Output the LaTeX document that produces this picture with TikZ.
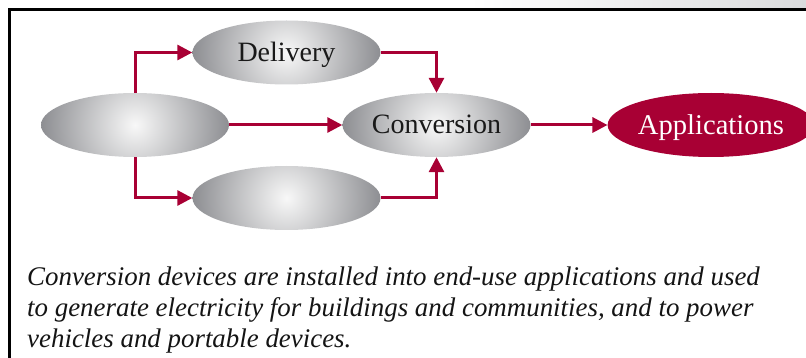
\documentclass[tikz,border=0pt]{standalone}
\usepackage{fontspec}
\setmainfont{Liberation Serif}
\usetikzlibrary{shapes.geometric,arrows.meta}
\definecolor{crim}{RGB}{168,0,52}
\definecolor{ctrgray}{RGB}{248,248,248}
\definecolor{edggray}{RGB}{140,141,145}
\definecolor{bandgray}{RGB}{218,219,221}
\definecolor{captext}{RGB}{20,20,20}
\tikzset{
  grayell/.style={ellipse, inner sep=0pt, minimum width=188pt, minimum height=64pt,
    font=\fontsize{28}{30}\selectfont, text=black!90, text depth=1pt,
    path picture={\shade[inner color=ctrgray, outer color=edggray]
      (path picture bounding box.center) circle (95pt);}},
  appell/.style={ellipse, inner sep=0pt, minimum width=188pt, minimum height=64pt,
    fill=crim, text=white, text depth=1pt, font=\fontsize{28.6}{30}\selectfont},
  conn/.style={draw=crim, line width=3pt, -{Triangle[length=15pt,width=15pt]}},
  frameline/.style={draw=black, line width=3pt}
}
\begin{document}
\begin{tikzpicture}[x=1pt,y=-1pt]
\useasboundingbox (0,0) rectangle (806,358);
\shade[left color=white, right color=bandgray] (470,0) rectangle (806,8);
\draw[frameline] (9.5,358) -- (9.5,9.5) -- (806,9.5);

\node[grayell] (src) at (135,125) {};
\node[grayell] (del) at (286.5,52.5) {Delivery};
\node[grayell] (bot) at (286.5,198) {};
\node[grayell] (conv) at (436.5,125) {Conversion};
\node[appell] (app) at (711,125) {Applications};

\draw[conn] (src.north) |- (del.west);
\draw[conn] (src.south) |- (bot.west);
\draw[conn] (src.east) -- (conv.west);
\draw[conn] (del.east) -| (conv.north);
\draw[conn] (bot.east) -| (conv.south);
\draw[conn] (conv.east) -- (app.west);

\node[anchor=north west, inner sep=0pt, align=left, text=captext,
  font=\itshape\fontsize{26.9}{31}\selectfont] (cap) at (27,267)
  {Conversion devices are installed into end-use applications and used\\
   to generate electricity for buildings and communities, and to power\\
   vehicles and portable devices.};
\end{tikzpicture}
\end{document}
